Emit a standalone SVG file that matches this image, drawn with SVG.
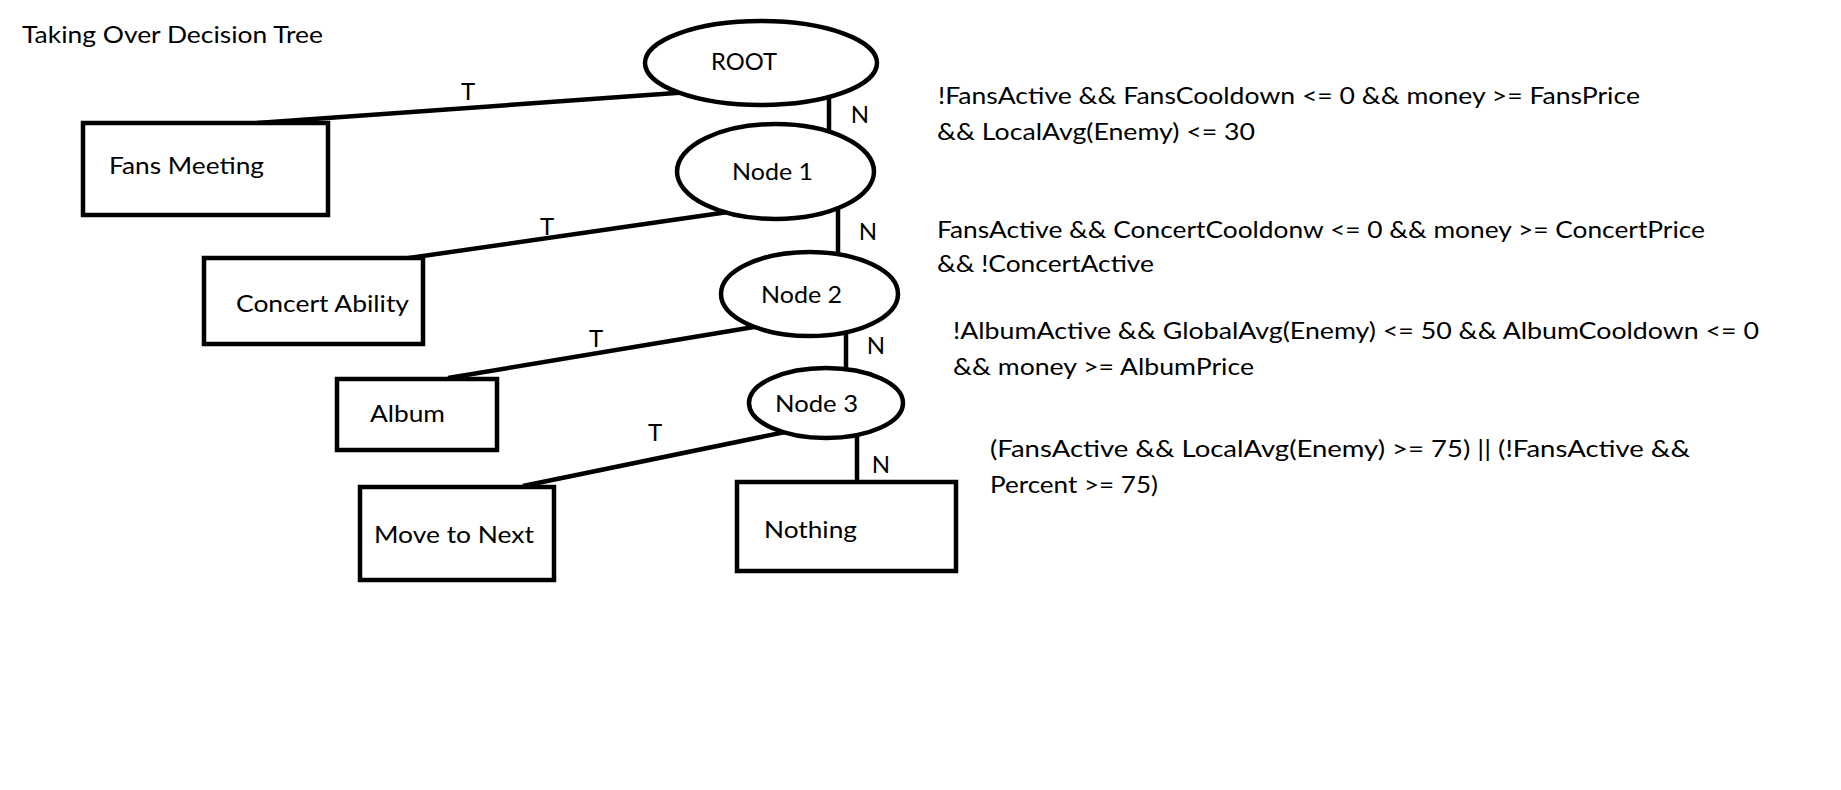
<svg xmlns="http://www.w3.org/2000/svg" width="1841" height="790" viewBox="0 0 1841 790">
<style>
text{font-family:Lato,"Liberation Sans",sans-serif;font-size:24px;fill:#000}
.box{fill:#fff;stroke:#000;stroke-width:4.5}
.ell{fill:#fff;stroke:#000;stroke-width:4.5}
.edge{stroke:#000;stroke-width:4.5;fill:none}
.lbl{text-anchor:middle}
</style>
<rect width="1841" height="790" fill="#fff"/>
<text x="22" y="43" textLength="301" lengthAdjust="spacingAndGlyphs">Taking Over Decision Tree</text>
<g id="connectors">
<line class="edge" x1="690" y1="92" x2="257" y2="123"/>
<line class="edge" x1="829" y1="90" x2="829" y2="140"/>
<line class="edge" x1="735" y1="211" x2="395" y2="260"/>
<line class="edge" x1="838" y1="200" x2="838" y2="262"/>
<line class="edge" x1="760" y1="326" x2="448" y2="378"/>
<line class="edge" x1="846" y1="320" x2="846" y2="375"/>
<line class="edge" x1="790" y1="431" x2="523" y2="486"/>
<line class="edge" x1="857" y1="425" x2="857" y2="482"/>
<text class="lbl" x="468" y="100">T</text>
<text class="lbl" x="860" y="123">N</text>
<text class="lbl" x="547" y="235">T</text>
<text class="lbl" x="868" y="240">N</text>
<text class="lbl" x="596" y="347">T</text>
<text class="lbl" x="876" y="354">N</text>
<text class="lbl" x="655" y="441">T</text>
<text class="lbl" x="881" y="473">N</text>
</g>
<g id="root">
<ellipse class="ell" cx="761" cy="63" rx="116" ry="42"/>
<text x="711" y="70" textLength="66" lengthAdjust="spacingAndGlyphs">ROOT</text>
</g>
<g id="fans-meeting">
<rect class="box" x="83" y="123" width="245" height="92"/>
<text x="109" y="174" textLength="155" lengthAdjust="spacingAndGlyphs">Fans Meeting</text>
</g>
<g id="node1">
<ellipse class="ell" cx="775.5" cy="171.5" rx="98.5" ry="47.5"/>
<text x="732" y="180" textLength="81" lengthAdjust="spacingAndGlyphs">Node 1</text>
</g>
<g id="concert-ability">
<rect class="box" x="204" y="258" width="219" height="86"/>
<text x="236" y="312" textLength="173" lengthAdjust="spacingAndGlyphs">Concert Ability</text>
</g>
<g id="node2">
<ellipse class="ell" cx="809.5" cy="294" rx="88.5" ry="42"/>
<text x="761" y="303" textLength="81" lengthAdjust="spacingAndGlyphs">Node 2</text>
</g>
<g id="album">
<rect class="box" x="337" y="379" width="160" height="71"/>
<text x="370" y="422" textLength="75" lengthAdjust="spacingAndGlyphs">Album</text>
</g>
<g id="node3">
<ellipse class="ell" cx="826" cy="403" rx="77" ry="35"/>
<text x="775" y="412" textLength="83" lengthAdjust="spacingAndGlyphs">Node 3</text>
</g>
<g id="move-to-next">
<rect class="box" x="360" y="487" width="194" height="93"/>
<text x="374" y="543" textLength="160" lengthAdjust="spacingAndGlyphs">Move to Next</text>
</g>
<g id="nothing">
<rect class="box" x="737" y="482" width="219" height="89"/>
<text x="764" y="538" textLength="93" lengthAdjust="spacingAndGlyphs">Nothing</text>
</g>
<g id="conditions">
<text x="938" y="104" textLength="702" lengthAdjust="spacingAndGlyphs">!FansActive &amp;&amp; FansCooldown &lt;= 0 &amp;&amp; money &gt;= FansPrice</text>
<text x="937" y="140" textLength="318" lengthAdjust="spacingAndGlyphs">&amp;&amp; LocalAvg(Enemy) &lt;= 30</text>
<text x="937" y="238" textLength="768" lengthAdjust="spacingAndGlyphs">FansActive &amp;&amp; ConcertCooldonw &lt;= 0 &amp;&amp; money &gt;= ConcertPrice</text>
<text x="937" y="272" textLength="217" lengthAdjust="spacingAndGlyphs">&amp;&amp; !ConcertActive</text>
<text x="953" y="339" textLength="806" lengthAdjust="spacingAndGlyphs">!AlbumActive &amp;&amp; GlobalAvg(Enemy) &lt;= 50 &amp;&amp; AlbumCooldown &lt;= 0</text>
<text x="953" y="375" textLength="301" lengthAdjust="spacingAndGlyphs">&amp;&amp; money &gt;= AlbumPrice</text>
<text x="990" y="457" textLength="700" lengthAdjust="spacingAndGlyphs">(FansActive &amp;&amp; LocalAvg(Enemy) &gt;= 75) || (!FansActive &amp;&amp;</text>
<text x="990" y="493" textLength="168" lengthAdjust="spacingAndGlyphs">Percent &gt;= 75)</text>
</g>
</svg>
